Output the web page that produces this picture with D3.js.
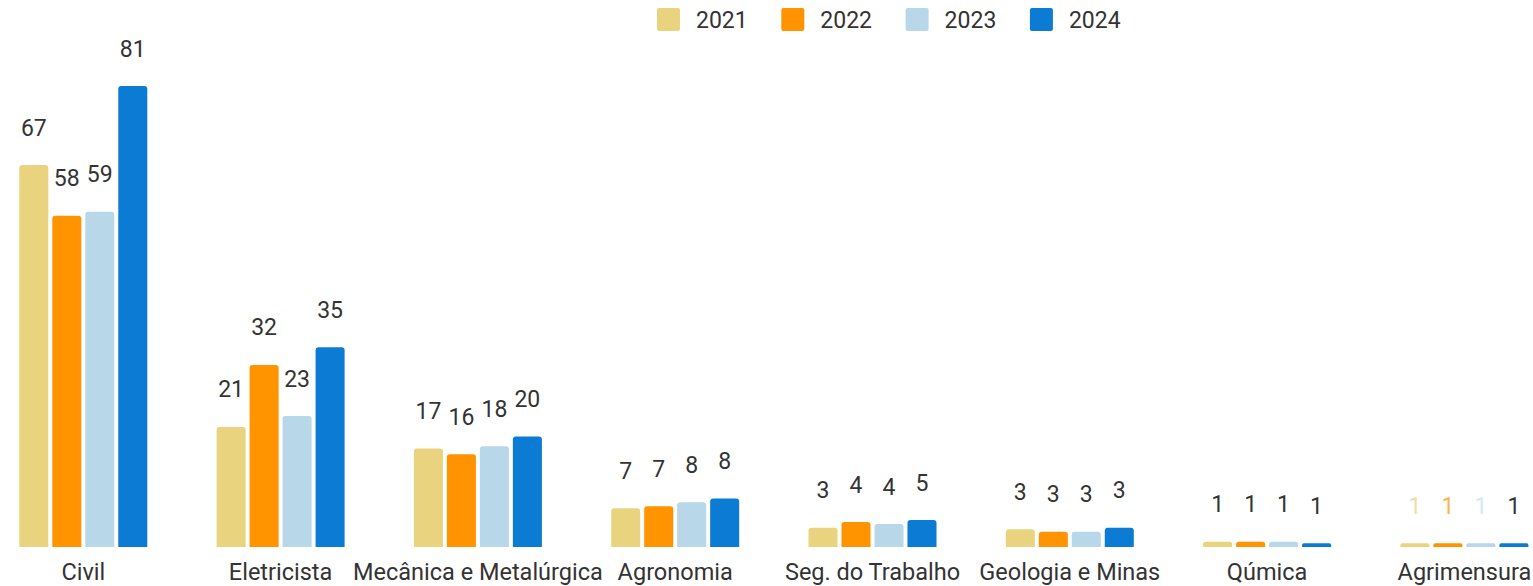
<!DOCTYPE html>
<html>
<head>
<meta charset="utf-8">
<script src="https://cdn.jsdelivr.net/npm/d3@7"></script>
<style>
  body { margin: 0; background: #fff; overflow: hidden; }
  text { font-family: Roboto, "Noto Sans", sans-serif; }
</style>
</head>
<body>
<div id="grafico"></div>
<script>
// Categorias e séries
var categorias = ["Civil", "Eletricista", "Mecânica e Metalúrgica", "Agronomia",
                  "Seg. do Trabalho", "Geologia e Minas", "Qúmica", "Agrimensura"];
var anos = ["2021", "2022", "2023", "2024"];

// altura das barras
var valores2021 = [67.1, 21.1, 17.3, 6.8, 3.4, 3.1, 0.93, 0.65];
var valores2022 = [58.2, 32.0, 16.3, 7.15, 4.4, 2.7, 0.93, 0.65];
var valores2023 = [58.9, 23.0, 17.7, 7.85, 4.04, 2.7, 0.93, 0.65];
var valores2024 = [81.0, 35.1, 19.4, 8.5, 4.74, 3.4, 0.65, 0.65];

// rótulos exibidos
var rotulos2021 = [67, 21, 17, 7, 3, 3, 1, 1];
var rotulos2022 = [58, 32, 16, 7, 4, 3, 1, 1];
var rotulos2023 = [59, 23, 18, 8, 4, 3, 1, 1];
var rotulos2024 = [81, 35, 20, 8, 5, 3, 1, 1];

var cores = ["#e9d37f", "#ff9300", "#b8d7e8", "#0b7bd4"];
var coresClaras = ["#f2dea3", "#ffb449", "#d5e7f1", "#333333"];

var valores = [valores2021, valores2022, valores2023, valores2024];
var rotulos = [rotulos2021, rotulos2022, rotulos2023, rotulos2024];

var dados = categorias.map(function(c, i) {
  return {
    categoria: c,
    barras: anos.map(function(a, j) {
      return { ano: a, serie: j, valor: valores[j][i], rotulo: rotulos[j][i], cat: c };
    })
  };
});

var largura = 1533, altura = 586;

var svg = d3.select("#grafico")
  .append("svg")
    .attr("width", largura)
    .attr("height", altura);

var x0 = d3.scaleBand()
  .domain(categorias)
  .range([-15.35, 1563.05]);

var larguraGrupo = 128;
var x1 = d3.scaleBand()
  .domain(anos)
  .range([0, larguraGrupo])
  .paddingInner(0.12);

var y = d3.scaleLinear()
  .domain([0, 81])
  .range([547, 86]);

var cor = d3.scaleOrdinal().domain(anos).range(cores);

// retângulo com cantos superiores arredondados
function barraArredondada(x, yTop, w, h, r) {
  r = Math.min(r, h / 2, w / 2);
  return "M" + x + "," + (yTop + h) +
    "V" + (yTop + r) +
    "Q" + x + "," + yTop + " " + (x + r) + "," + yTop +
    "H" + (x + w - r) +
    "Q" + (x + w) + "," + yTop + " " + (x + w) + "," + (yTop + r) +
    "V" + (yTop + h) + "Z";
}

var grupos = svg.selectAll(".grupo")
  .data(dados)
  .enter()
  .append("g")
    .attr("class", "grupo")
    .attr("transform", function(d) {
      return "translate(" + (x0(d.categoria) + (x0.bandwidth() - larguraGrupo) / 2) + ",0)";
    });

grupos.selectAll("path")
  .data(function(d) { return d.barras; })
  .enter()
  .append("path")
    .attr("d", function(d) {
      return barraArredondada(x1(d.ano), y(d.valor), x1.bandwidth(), y(0) - y(d.valor), 3);
    })
    .attr("fill", function(d) { return cor(d.ano); });

grupos.selectAll(".rotulo")
  .data(function(d) { return d.barras; })
  .enter()
  .append("text")
    .attr("class", "rotulo")
    .attr("x", function(d) { return x1(d.ano) + x1.bandwidth() / 2; })
    .attr("y", function(d) { return y(d.valor) - 37.5; })
    .attr("dy", "0.35em")
    .attr("text-anchor", "middle")
    .style("font-size", "23px")
    .attr("fill", function(d) {
      return d.cat == "Agrimensura" ? coresClaras[d.serie] : "#333";
    })
    .text(function(d) { return d.rotulo; });

// eixo X (apenas os nomes)
svg.selectAll(".cat")
  .data(categorias)
  .enter()
  .append("text")
    .attr("class", "cat")
    .attr("x", function(d) { return x0(d) + x0.bandwidth() / 2; })
    .attr("y", 580)
    .attr("text-anchor", "middle")
    .style("font-size", "23.5px")
    .attr("fill", "#333")
    .text(function(d) { return d; });

// legenda
var legenda = svg.selectAll(".legenda")
  .data(anos)
  .enter()
  .append("g")
    .attr("class", "legenda")
    .attr("transform", function(d, i) { return "translate(" + (657 + i * 124.3) + ",8)"; });

legenda.append("rect")
  .attr("width", 23)
  .attr("height", 23)
  .attr("rx", 2)
  .attr("fill", function(d) { return cor(d); });

legenda.append("text")
  .attr("x", 39)
  .attr("y", 11.5)
  .attr("dy", "0.35em")
  .style("font-size", "23px")
  .attr("fill", "#333")
  .text(function(d) { return d; });
</script>
</body>
</html>
